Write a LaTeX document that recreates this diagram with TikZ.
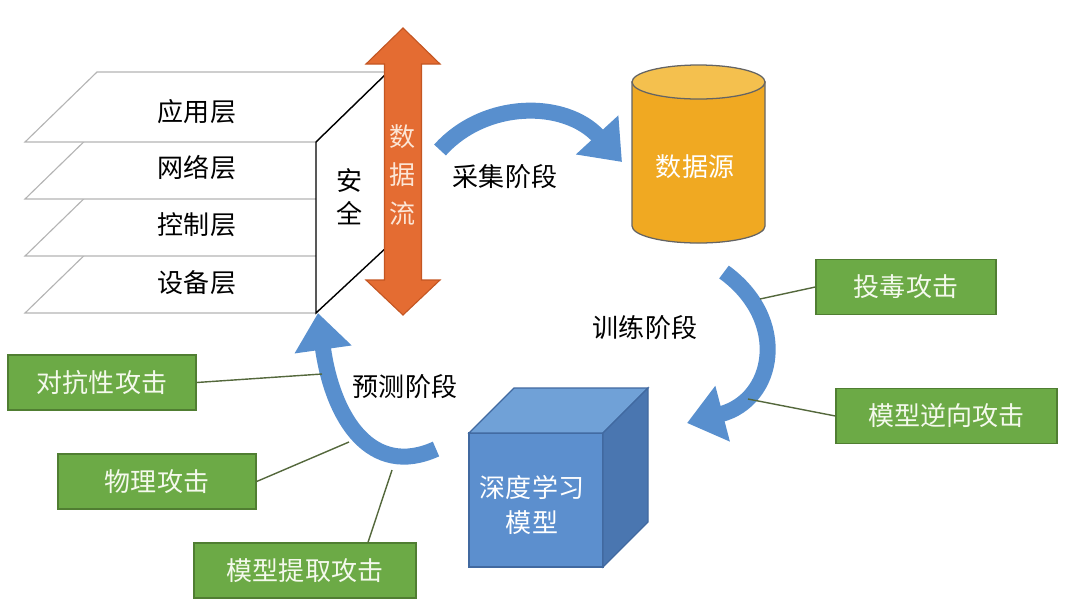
\documentclass[tikz,border=0pt]{standalone}
\usepackage{fontspec}
\setmainfont{Noto Sans CJK SC}
\usetikzlibrary{arrows.meta}
\definecolor{layergray}{RGB}{180,180,180}
\definecolor{flowfill}{RGB}{228,108,50}
\definecolor{flowedge}{RGB}{196,86,34}
\definecolor{flowtext}{RGB}{252,230,214}
\definecolor{srcbody}{RGB}{240,169,34}
\definecolor{srctop}{RGB}{244,192,78}
\definecolor{srcedge}{RGB}{100,100,100}
\definecolor{stageblue}{RGB}{88,143,206}
\definecolor{cubefront}{RGB}{92,143,206}
\definecolor{cubetop}{RGB}{112,161,215}
\definecolor{cubeside}{RGB}{74,118,176}
\definecolor{cubeedge}{RGB}{65,105,160}
\definecolor{attackfill}{RGB}{108,170,70}
\definecolor{attackedge}{RGB}{80,126,50}
\definecolor{attacktext}{RGB}{244,249,236}
\definecolor{linkgreen}{RGB}{84,104,60}
\begin{document}
\begin{tikzpicture}[
    x=0.025cm,y=-0.025cm,
    every node/.style={font=\fontsize{18.5}{24}\selectfont},
    layer/.style={draw=layergray, line width=0.8pt, fill=white},
    wall/.style={draw=black, line width=1pt},
    stage/.style={draw=stageblue, line width=0.4cm,
        -{Triangle[width=1.38cm,length=0.92cm]}},
    attack/.style={draw=attackedge, line width=0.9pt, fill=attackfill,
        text=attacktext, minimum height=1.37cm},
    link/.style={draw=linkgreen, line width=1pt}
]
    \useasboundingbox (0,0) rectangle (1072,608);

    % protocol layers
    \foreach \b in {313,256,199,142} {
        \draw[layer] (25,\b) -- (316,\b) -- (388,\b-70) -- (97,\b-70) -- cycle;
    }
    \node (app)  at (197,112) {应用层};
    \node (net)  at (197,168) {网络层};
    \node (ctrl) at (197,225) {控制层};
    \node (dev)  at (197,283) {设备层};

    \fill[white] (316,142) -- (390,70) -- (390,246) -- (316,313) -- cycle;
    \draw[wall] (388,72) -- (316,142) -- (316,313) -- (388,246);
    \node[align=center, font=\fontsize{18.5}{23.5}\selectfont] (sec) at (350,197) {安\\全};

    % data flow
    \draw[fill=flowfill, draw=flowedge, line width=0.8pt]
        (403,28) -- (440,64) -- (421.5,64) -- (421.5,280) -- (440,280)
        -- (403,315) -- (366,280) -- (384.5,280) -- (384.5,64) -- (366,64) -- cycle;
    \node[align=center, text=flowtext, font=\fontsize{18.5}{27.5}\selectfont] (flow) at (403,175) {数\\据\\流};

    % data source
    \draw[fill=srcbody, draw=srcedge, line width=0.9pt] (632,82) -- (632,226)
        arc[start angle=180, end angle=360, x radius=1.6625cm, y radius=0.425cm]
        -- (765,82) -- cycle;
    \draw[fill=srctop, draw=srcedge, line width=0.9pt] (698.5,82) ellipse[x radius=1.6625cm, y radius=0.425cm];
    \node[text=white] (src) at (695,167) {数据源};

    % model cube
    \draw[fill=cubefront, draw=cubeedge, line width=0.8pt] (469,433) rectangle (603,567);
    \draw[fill=cubetop, draw=cubeedge, line width=0.8pt] (469,433) -- (514,388) -- (648,388) -- (603,433) -- cycle;
    \draw[fill=cubeside, draw=cubeedge, line width=0.8pt] (603,433) -- (648,388) -- (648,522) -- (603,567) -- cycle;
    \node[align=center, text=white, font=\fontsize{18.5}{25}\selectfont] (model) at (532,505) {深度学习\\模型};

    % stages
    \draw[stage] (440,150) .. controls (485,100) and (565,100) .. (622,162);
    \draw[stage] (724,272) .. controls (790,320) and (775,400) .. (687,423);
    \draw[stage] (436,449) .. controls (372,478) and (333,420) .. (318,313);
    \node (collect) at (505,177) {采集阶段};
    \node (train)   at (645,328) {训练阶段};
    \node (predict) at (405,387) {预测阶段};

    \coordinate (tr1) at (760,299);
    \coordinate (tr2) at (748,399);
    \coordinate (pr1) at (322,374);
    \coordinate (pr2) at (349,442);
    \coordinate (pr3) at (392,470);

    % attacks
    \node[attack, minimum width=4.5cm]   (poison) at (906,287)   {投毒攻击};
    \node[attack, minimum width=5.52cm]  (invert) at (946.5,416) {模型逆向攻击};
    \node[attack, minimum width=4.7cm]   (adv)    at (102,382.5) {对抗性攻击};
    \node[attack, minimum width=4.95cm]  (phys)   at (157,481.5) {物理攻击};
    \node[attack, minimum width=5.55cm]  (ext)    at (305,570.5) {模型提取攻击};

    \draw[link] (poison.west) -- (tr1);
    \draw[link] (invert.west) -- (tr2);
    \draw[link] (adv.east) -- (pr1);
    \draw[link] (phys.east) -- (pr2);
    \draw[link] (ext.24) -- (pr3);
\end{tikzpicture}
\end{document}
